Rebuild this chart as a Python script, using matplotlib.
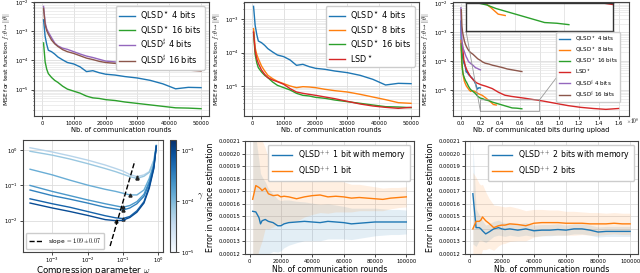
import numpy as np
import matplotlib
matplotlib.use('Agg')
import matplotlib.pyplot as plt
from matplotlib.colors import LogNorm
import matplotlib.cm as cm

plt.rcParams['mathtext.fontset'] = 'cm'
plt.rcParams['axes.edgecolor'] = '#444444'

# ---- top row data: log10(MSE) vs communication rounds ----
rounds = [500, 1000, 1500, 2000, 3000, 4000, 5000, 6500, 8000, 10000, 12000, 14000,
          16000, 18000, 20000, 23000, 26000, 30000, 34000, 38000, 42000, 46000, 50000]
qlsd_4 = [-2.61, -3.18, -3.45, -3.65, -3.70, -3.78, -3.88, -3.98, -4.07, -4.12, -4.22, -4.38,
          -4.35, -4.42, -4.47, -4.50, -4.55, -4.60, -4.68, -4.80, -4.97, -4.92, -4.93]
qlsd_8 = [-3.28, -3.85, -4.05, -4.18, -4.40, -4.55, -4.68, -4.78, -4.86, -4.93, -5.00, -5.05,
          -5.02, -5.03, -5.05, -5.10, -5.14, -5.18, -5.25, -5.33, -5.41, -5.50, -5.52]
qlsd_16 = [-3.40, -4.05, -4.30, -4.45, -4.58, -4.68, -4.75, -4.88, -4.98, -5.05, -5.12, -5.22,
           -5.28, -5.30, -5.34, -5.37, -5.42, -5.47, -5.52, -5.57, -5.62, -5.63, -5.65]
lsd = [-3.38, -3.95, -4.18, -4.32, -4.52, -4.65, -4.75, -4.82, -4.87, -4.95, -5.08, -5.18,
       -5.22, -5.25, -5.28, -5.33, -5.38, -5.46, -5.54, -5.60, -5.64, -5.67, -5.64]
qlsd_sharp_4 = [-2.15, -2.70, -2.92, -3.03, -3.22, -3.40, -3.50, -3.58, -3.62, -3.70, -3.78, -3.85,
                -3.90, -3.96, -4.02, -4.05, -4.09, -4.13, -4.18, -4.23, -4.25, -4.28, -4.30]
qlsd_sharp_16 = [-2.22, -2.78, -2.98, -3.10, -3.30, -3.43, -3.52, -3.63, -3.70, -3.76, -3.84, -3.92,
                 -3.97, -4.03, -4.07, -4.10, -4.14, -4.18, -4.22, -4.27, -4.30, -4.33, -4.36]
# total bits sent during upload after the last round
total_bits = {'4': 0.2e8, '8': 0.36e8, '16': 0.62e8, 'lsd': 1.6e8, 's4': 0.2e8, 's16': 0.62e8}

# ---- bottom-left: MSE vs compression parameter, one curve per gamma ----
log_omega = [-3.63, -3.0, -2.5, -2.0, -1.5, -1.2, -1.0, -0.8, -0.6, -0.4, -0.25, -0.12, -0.05]
gammas = [1e-5, 2e-5, 5e-5, 1e-4, 2e-4, 5e-4, 1e-3]
mse_omega = [
    [0.07, -0.05, -0.16, -0.28, -0.42, -0.52, -0.59, -0.69, -0.75, -0.70, -0.61, -0.28, 0.14],
    [-0.03, -0.14, -0.25, -0.38, -0.52, -0.61, -0.68, -0.75, -0.80, -0.74, -0.63, -0.29, 0.14],
    [-0.54, -0.70, -0.85, -0.99, -1.11, -1.17, -1.22, -1.27, -1.27, -1.13, -0.80, -0.38, 0.12],
    [-1.00, -1.17, -1.29, -1.41, -1.52, -1.58, -1.62, -1.57, -1.46, -1.25, -0.89, -0.42, 0.12],
    [-1.13, -1.29, -1.39, -1.50, -1.62, -1.67, -1.70, -1.64, -1.52, -1.31, -0.94, -0.44, 0.12],
    [-1.38, -1.52, -1.62, -1.74, -1.86, -1.92, -1.94, -1.88, -1.72, -1.46, -1.03, -0.49, 0.11],
    [-1.50, -1.64, -1.74, -1.85, -1.97, -2.00, -1.99, -1.91, -1.76, -1.50, -1.08, -0.52, 0.11],
]
slope_x = [-1.36, -0.66]
slope_y = [-2.72, -0.31]

# ---- bottom middle / right: variance estimation error ----
var_rounds = [2000, 4000, 6000, 7000, 8000, 10000, 12000, 15000, 18000, 20000, 22000, 25000, 30000,
              35000, 40000, 45000, 50000, 55000, 60000, 65000, 70000, 75000, 80000, 85000, 90000,
              95000, 100000]
mem1 = [1.54, 1.535, 1.49, 1.44, 1.465, 1.475, 1.46, 1.45, 1.425, 1.425, 1.44, 1.45, 1.455, 1.46,
        1.455, 1.45, 1.46, 1.455, 1.45, 1.44, 1.445, 1.45, 1.455, 1.455, 1.455, 1.455, 1.455]
mem1_sd = [8, 6, 4.5, 4, 3.5, 3, 2.6, 2.3, 2.1, 2.0, 1.9, 1.8, 1.65, 1.55, 1.5, 1.45, 1.4, 1.35,
           1.3, 1.25, 1.2, 1.15, 1.1, 1.05, 1.0, 1.0, 0.95]
nomem1 = [1.636, 1.745, 1.73, 1.72, 1.705, 1.725, 1.68, 1.665, 1.67, 1.655, 1.66, 1.655, 1.64,
          1.655, 1.665, 1.67, 1.655, 1.66, 1.655, 1.645, 1.65, 1.645, 1.64, 1.635, 1.645, 1.65, 1.655]
nomem1_sd = [8, 6, 5, 4.5, 4, 3.2, 2.8, 2.5, 2.3, 2.2, 2.1, 2.0, 1.8, 1.6, 1.5, 1.4, 1.3, 1.25,
             1.2, 1.1, 1.05, 1.0, 0.95, 0.9, 0.85, 0.8, 0.8]
mem2 = [1.68, 1.41, 1.41, 1.40, 1.385, 1.36, 1.375, 1.40, 1.41, 1.40, 1.395, 1.40, 1.39, 1.40,
        1.385, 1.39, 1.39, 1.395, 1.39, 1.40, 1.40, 1.39, 1.375, 1.38, 1.38, 1.38, 1.38]
mem2_sd = [4.0, 1.5, 1.0, 0.9, 0.8, 0.7, 0.65, 0.6, 0.6, 0.55, 0.55, 0.5, 0.5, 0.5, 0.45, 0.45,
           0.45, 0.45, 0.4, 0.4, 0.4, 0.4, 0.4, 0.4, 0.4, 0.4, 0.4]
nomem2 = [1.40, 1.46, 1.46, 1.47, 1.495, 1.465, 1.445, 1.41, 1.425, 1.43, 1.43, 1.44, 1.435, 1.425,
          1.445, 1.45, 1.45, 1.45, 1.445, 1.445, 1.445, 1.44, 1.44, 1.44, 1.445, 1.44, 1.44]
nomem2_sd = [4.5, 3.5, 3.0, 2.8, 2.6, 2.3, 2.0, 1.8, 1.6, 1.5, 1.45, 1.4, 1.3, 1.2, 1.1, 1.05,
             1.0, 1.0, 0.95, 0.95, 0.9, 0.9, 0.9, 0.85, 0.85, 0.85, 0.85]

ylab = r'MSE for test function $f:\theta\mapsto\|\theta\|$'
BLUE, ORANGE, GREEN, RED, PURPLE, BROWN = ('#1f77b4', '#ff7f0e', '#2ca02c',
                                           '#d62728', '#9467bd', '#8c564b')

W, H = 640, 273
fig = plt.figure(figsize=(6.4, 2.73), dpi=100)


def px(l, t, r, b):
    return [l / W, 1 - b / H, (r - l) / W, (b - t) / H]


def style(ax, logy=True, minor=True):
    ax.tick_params(labelsize=3.8, length=2, width=0.5, pad=1.5)
    ax.tick_params(which='minor', length=1, width=0.4)
    for s in ax.spines.values():
        s.set_linewidth(0.8)
    ax.grid(True, which='major', color='#dddddd', lw=0.6)
    if logy and minor:
        ax.grid(True, which='minor', axis='y', color='#e6e6e6', lw=0.5)
    ax.set_axisbelow(True)


r = np.array(rounds)
p10 = lambda v: 10 ** np.array(v)
top_leg = dict(fontsize=5.9, handlelength=2.0, borderpad=0.4, labelspacing=0.3,
               framealpha=1, handletextpad=0.6)

# panel 1
ax1 = fig.add_axes(px(34, 2, 209, 116))
ax1.semilogy(r, p10(qlsd_4), color=BLUE, lw=1.0, label=r'QLSD$^\star$ 4 bits')
ax1.semilogy(r, p10(qlsd_16), color=GREEN, lw=1.0, label=r'QLSD$^\star$ 16 bits')
ax1.semilogy(r, p10(qlsd_sharp_4), color=PURPLE, lw=1.0, label=r'QLSD$^\sharp$ 4 bits')
ax1.semilogy(r, p10(qlsd_sharp_16), color=BROWN, lw=1.0, label=r'QLSD$^\sharp$ 16 bits')
ax1.set_ylim(10 ** -5.9, 10 ** -2.0)
ax1.set_xlim(-2500, 52500)
ax1.set_xticks([0, 10000, 20000, 30000, 40000, 50000])
style(ax1)
ax1.set_xlabel('Nb. of communication rounds', fontsize=4.9, labelpad=1)
ax1.set_ylabel(ylab, fontsize=4.4, labelpad=2)
ax1.legend(loc='upper right', **top_leg)

# panel 2
ax2 = fig.add_axes(px(244, 2, 419, 116))
ax2.semilogy(r, p10(qlsd_4), color=BLUE, lw=1.0, label=r'QLSD$^\star$ 4 bits')
ax2.semilogy(r, p10(qlsd_8), color=ORANGE, lw=1.0, label=r'QLSD$^\star$ 8 bits')
ax2.semilogy(r, p10(qlsd_16), color=GREEN, lw=1.0, label=r'QLSD$^\star$ 16 bits')
ax2.semilogy(r, p10(lsd), color=RED, lw=1.0, label=r'LSD$^\star$')
ax2.set_ylim(10 ** -5.9, 10 ** -2.48)
ax2.set_xlim(-2500, 52500)
ax2.set_xticks([0, 10000, 20000, 30000, 40000, 50000])
style(ax2)
ax2.set_xlabel('Nb. of communication rounds', fontsize=4.9, labelpad=1)
ax2.set_ylabel(ylab, fontsize=4.4, labelpad=2)
ax2.legend(loc='upper right', **top_leg)

# panel 3
ax3 = fig.add_axes(px(453, 2, 629, 116))
series3 = [(qlsd_4, '4', BLUE, r'QLSD$^\star$ 4 bits'),
           (qlsd_8, '8', ORANGE, r'QLSD$^\star$ 8 bits'),
           (qlsd_16, '16', GREEN, r'QLSD$^\star$ 16 bits'),
           (lsd, 'lsd', RED, r'LSD$^\star$'),
           (qlsd_sharp_4, 's4', PURPLE, r'QLSD$^\sharp$ 4 bits'),
           (qlsd_sharp_16, 's16', BROWN, r'QLSD$^\sharp$ 16 bits')]
axins = ax3.inset_axes([0.074, 0.746, 0.835, 0.246])
for vals, key, col, lab in series3:
    bits = r / rounds[-1] * total_bits[key]
    ax3.semilogy(bits, p10(vals), color=col, lw=1.0, label=lab)
    axins.semilogy(bits, p10(vals), color=col, lw=1.0)
ax3.set_ylim(10 ** -5.9, 10 ** -1.95)
ax3.set_xlim(-0.078e8, 1.706e8)
xt3 = np.arange(0, 1.61e8, 0.2e8)
ax3.set_xticks(xt3)
ax3.set_xticklabels(['%.1f' % (v / 1e8) for v in xt3])
ax3.text(0.985, 0.0, r'$\times10^{8}$', transform=ax3.transAxes, ha='left', va='top',
         fontsize=3.8)
style(ax3)
ax3.set_xlabel('Nb. of communicated bits during upload', fontsize=4.9, labelpad=1)
ax3.set_ylabel(ylab, fontsize=4.4, labelpad=2)
ax3.legend(loc='lower right', bbox_to_anchor=(0.965, 0.1), fontsize=4.1, handlelength=2.0,
           borderpad=0.4, labelspacing=0.35, framealpha=1)
axins.set_xlim(0.2e8, 0.8e8)
axins.set_ylim(10 ** -5.74, 10 ** -5.34)
axins.tick_params(length=0, which='both', labelbottom=False, labelleft=False)
axins.grid(True, color='#dddddd', lw=0.5)
for s in axins.spines.values():
    s.set_linewidth(1.0)
    s.set_edgecolor('#333333')
ax3.indicate_inset_zoom(axins, edgecolor='#999999', lw=0.6, alpha=1)

# panel 4
ax4 = fig.add_axes(px(23, 140, 163, 252))
cax = fig.add_axes(px(170, 140, 176, 252))
norm = LogNorm(1e-5, 10 ** -2.8)
om = 10 ** np.array(log_omega)
for g, curve in zip(gammas, mse_omega):
    col = cm.Blues(0.3 + 0.65 * norm(g))
    ax4.loglog(om, p10(curve), color=col, lw=1.0)
    i = int(np.argmin(curve))
    ax4.plot(om[i], 10 ** curve[i], marker='^', ms=2.2, color='#222222', ls='none')
ax4.loglog(p10(slope_x), p10(slope_y), 'k--', lw=1.0, label=r'slope $= 1.09 \pm 0.07$')
ax4.set_xlim(10 ** -3.83, 10 ** 0.14)
ax4.set_ylim(10 ** -2.89, 10 ** 0.29)
ax4.set_xticks([1e-3, 1e-2, 1e-1, 1e0])
ax4.set_yticks([1e-2, 1e-1, 1e0])
ax4.minorticks_off()
style(ax4, minor=False)
ax4.tick_params(axis='x', pad=0.5)
ax4.set_xlabel(r'Compression parameter $\omega$', fontsize=6.2)
ax4.xaxis.set_label_coords(0.5, -0.105)
ax4.set_ylabel(ylab, fontsize=4.4, labelpad=1)
ax4.legend(loc='lower left', fontsize=4.2, handlelength=2.4, borderpad=0.5, framealpha=1)
cb = fig.colorbar(cm.ScalarMappable(norm=norm, cmap='Blues'), cax=cax)
cb.set_ticks([1e-5, 1e-4, 1e-3])
cb.ax.minorticks_off()
cb.ax.tick_params(labelsize=3.8, length=2, width=0.5, pad=1.5)
cb.set_label(r'$\gamma$', rotation=0, fontsize=6, labelpad=4, va='center')
cb.outline.set_linewidth(0.8)

# panels 5 and 6
vr = np.array(var_rounds)


def var_panel(rect, m_mem, sd_mem, m_no, sd_no, bits):
    ax = fig.add_axes(rect)
    for m, sd, col, lab in [(m_mem, sd_mem, BLUE, r'QLSD$^{++}$ %s with memory' % bits),
                            (m_no, sd_no, ORANGE, r'QLSD$^{++}$ %s' % bits)]:
        m = np.array(m) * 1e-4
        sd = np.array(sd) * 1e-5
        ax.plot(vr, m, color=col, lw=1.0, label=lab)
        ax.fill_between(vr, m - sd, m + sd, color=col, alpha=0.12, lw=0)
    ax.set_ylim(0.00012, 0.00021)
    yt = np.arange(0.00012, 0.000211, 0.00001)
    ax.set_yticks(yt)
    ax.set_yticklabels(['%.5f' % v for v in yt])
    ax.set_xticks([0, 20000, 40000, 60000, 80000, 100000])
    style(ax, logy=False)
    ax.set_xlabel('Nb. of communication rounds', fontsize=5.6, labelpad=1)
    ax.set_ylabel('Error in variance estimation', fontsize=5.6, labelpad=2)
    ax.legend(loc='upper right', fontsize=5.6, handlelength=2.6, borderpad=0.5,
              labelspacing=0.35, framealpha=1)
    return ax


var_panel(px(245, 141, 414, 254), mem1, mem1_sd, nomem1, nomem1_sd, '1 bit')
var_panel(px(465, 141, 638, 254), mem2, mem2_sd, nomem2, nomem2_sd, '2 bits')

fig.savefig('out.png', dpi=100)
